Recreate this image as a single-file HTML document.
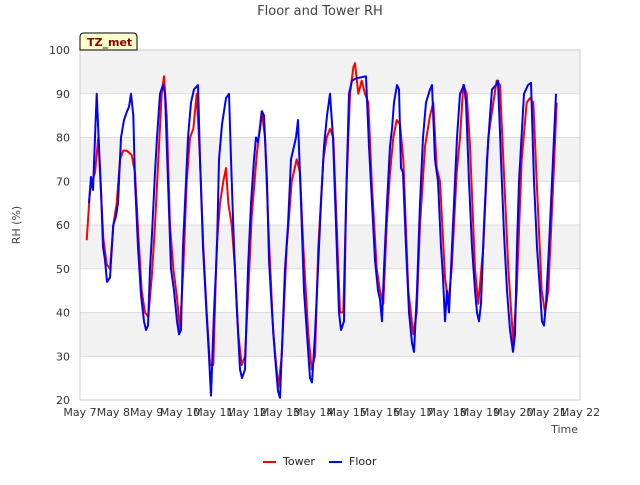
<!DOCTYPE html>
<html><head><meta charset="utf-8"><style>
body{margin:0;background:#fff;font-family:"Liberation Sans","DejaVu Sans",sans-serif}
svg text{font-family:"DejaVu Sans","Liberation Sans",sans-serif}
</style></head><body>
<svg width="640" height="480" viewBox="0 0 640 480">
<g id="bands"></g>
<g id="grid"></g>
<g id="axes"></g>
<g id="series"></g>
<text x="320" y="15" text-anchor="middle" font-size="13" fill="#444">Floor and Tower RH</text>
<text x="20" y="225" text-anchor="middle" font-size="11" fill="#444" transform="rotate(-90 20 225)">RH (%)</text>
<text x="578" y="433" text-anchor="end" font-size="11" fill="#444">Time</text>
<g>
<path d="M80 50 L80 37 Q80 33 84 33 L133 33 Q137 33 137 37 L137 50 Z" fill="#ffffcc" stroke="#000" stroke-width="1"/>
<text x="87" y="46" font-size="11" font-weight="bold" fill="#8b0000">TZ_met</text>
</g>
<g>
<g><line x1="263" y1="462" x2="276" y2="462" stroke="#f00" stroke-width="2"/><text x="283" y="465" font-size="11" fill="#222">Tower</text></g>
<g><line x1="329" y1="462" x2="342" y2="462" stroke="#00f" stroke-width="2"/><text x="349" y="465" font-size="11" fill="#222">Floor</text></g>
</g>
</svg>
<script>
const xTickLabels=["May 7","May 8","May 9","May 10","May 11","May 12","May 13","May 14","May 15","May 16","May 17","May 18","May 19","May 20","May 21","May 22"];
const yTicks=[20,30,40,50,60,70,80,90,100];
const floorT=[.27,.33,.39,.45,.5,.57,.63,.69,.75,.81,.9,1.0,1.08,1.14,1.23,1.32,1.41,1.47,1.53,1.6,1.65,1.74,1.83,1.92,1.98,2.04,2.1,2.16,2.25,2.31,2.4,2.49,2.55,2.64,2.73,2.82,2.91,2.97,3.03,3.09,3.18,3.24,3.33,3.42,3.54,3.6,3.69,3.78,3.87,3.93,4.02,4.11,4.17,4.26,4.38,4.47,4.53,4.62,4.71,4.8,4.86,4.95,5.04,5.13,5.22,5.28,5.34,5.4,5.46,5.52,5.61,5.67,5.76,5.85,5.94,6.0,6.06,6.15,6.24,6.33,6.42,6.48,6.54,6.63,6.72,6.81,6.9,6.96,7.05,7.14,7.23,7.32,7.41,7.5,7.59,7.68,7.77,7.83,7.92,7.98,8.07,8.16,8.28,8.58,8.67,8.76,8.85,8.94,9.0,9.06,9.12,9.21,9.3,9.36,9.42,9.51,9.57,9.63,9.69,9.78,9.87,9.96,10.02,10.11,10.2,10.29,10.38,10.5,10.56,10.65,10.74,10.83,10.89,10.95,11.01,11.07,11.16,11.25,11.31,11.4,11.52,11.58,11.67,11.76,11.85,11.91,11.97,12.03,12.12,12.21,12.3,12.36,12.48,12.54,12.63,12.72,12.81,12.9,12.99,13.05,13.11,13.17,13.26,13.32,13.44,13.53,13.62,13.71,13.8,13.86,13.92,13.98,14.07,14.16,14.22,14.28];
const floorV=[65,71,68,80,90,78,68,55,52,47,48,60,62,65,80,84,86,87,90,85,70,55,44,38,36,37,50,58,72,80,90,92,90,70,50,45,38,35,36,55,70,80,88,91,92,75,55,42,30,21,40,55,75,83,89,90,75,55,40,27,25,27,50,65,75,80,79,82,86,85,70,52,40,30,22,20.5,32,50,60,75,78,80,84,65,45,35,25,24,35,50,65,78,85,90,80,60,40,36,38,65,90,93,93.5,94,78,65,52,45,43,38,50,65,78,82,88,92,91,73,72,55,40,33,31,45,65,80,88,91,92,75,70,55,48,38,45,40,55,70,80,90,92,88,70,55,45,40,38,42,60,75,85,91,92,93,75,58,45,36,31,35,55,70,82,90,92,92.5,70,55,45,38,37,42,55,70,80,90];
const towerT=[.2,.3,.45,.55,.6,.7,.8,.9,1.0,1.1,1.2,1.3,1.4,1.55,1.65,1.75,1.85,1.95,2.05,2.15,2.25,2.35,2.45,2.52,2.6,2.7,2.8,2.9,3.0,3.1,3.2,3.3,3.4,3.5,3.6,3.7,3.8,3.9,4.0,4.1,4.2,4.3,4.38,4.45,4.55,4.65,4.75,4.85,4.95,5.05,5.15,5.3,5.45,5.55,5.65,5.8,5.95,6.05,6.2,6.35,6.5,6.6,6.7,6.85,6.95,7.05,7.15,7.3,7.4,7.5,7.6,7.7,7.8,7.9,8.0,8.1,8.2,8.25,8.35,8.45,8.55,8.65,8.75,8.9,9.0,9.1,9.2,9.3,9.4,9.5,9.6,9.7,9.85,10.0,10.1,10.2,10.35,10.5,10.6,10.7,10.8,10.95,11.05,11.15,11.3,11.4,11.5,11.6,11.7,11.85,11.95,12.1,12.25,12.4,12.5,12.6,12.7,12.85,13.0,13.1,13.25,13.4,13.5,13.6,13.7,13.85,13.95,14.05,14.2,14.3];
const towerV=[56.5,68,72,80,72,57,51,50,60,65,75,77,77,76,72,58,45,40,39,48,60,75,90,94,85,60,50,44,36,50,70,80,82,90,75,55,40,28,28,55,65,70,73,65,60,50,35,28,30,45,62,76,86,80,60,35,23,30,55,70,75,72,55,35,27,30,55,75,80,82,80,60,40,40,70,90,96,97,90,93,90,88,70,50,45,42,60,72,80,84,83,75,45,35,40,60,78,85,88,73,70,48,42,50,72,80,92,90,78,50,42,55,80,88,93,92,75,50,33,45,75,88,89,88,70,45,40,45,70,88];
const L=80,R=580,T=50,B=400;
const xs=t=>L+t*(R-L)/15;
const ys=v=>B-(v-20)*(B-T)/80;
const NS="http://www.w3.org/2000/svg";
function mk(tag,attrs,parent){const e=document.createElementNS(NS,tag);for(const k in attrs)e.setAttribute(k,attrs[k]);document.getElementById(parent).appendChild(e);return e;}
for(let i=0;i<yTicks.length-1;i++){
  if(i%2===1){const r=mk('rect',{x:L,y:ys(yTicks[i+1]),width:R-L,height:ys(yTicks[i])-ys(yTicks[i+1]),fill:'#f2f2f2'},'bands');
  
  }
}
yTicks.forEach(v=>{
  const g=mk('line',{x1:L,x2:R,y1:ys(v),y2:ys(v),stroke:'#dcdcdc','stroke-width':1},'grid');
  
  
  const t=mk('text',{x:L-10,y:ys(v)+4,'text-anchor':'end','font-size':11,fill:'#333'},'axes');
  
  
  t.textContent=v;
});
const fr=mk('rect',{x:L,y:T,width:R-L,height:B-T,fill:'none',stroke:'#ccc'},'axes');


xTickLabels.forEach((s,i)=>{
  const t=mk('text',{x:xs(i),y:B+16,'text-anchor':'middle','font-size':11,fill:'#333'},'axes');
  
  
  t.textContent=s;
});
function line(T_,V,color,name){
  const d=T_.map((t,i)=>(i?'L':'M')+xs(t).toFixed(1)+' '+ys(V[i]).toFixed(1)).join(' ');
  const p=mk('path',{d:d,fill:'none',stroke:color,'stroke-width':2,'stroke-linejoin':'round'},'series');
  
  
}
line(towerT,towerV,'#ff0000','tower-line');
line(floorT,floorV,'#0000ff','floor-line');
</script>
</body></html>
